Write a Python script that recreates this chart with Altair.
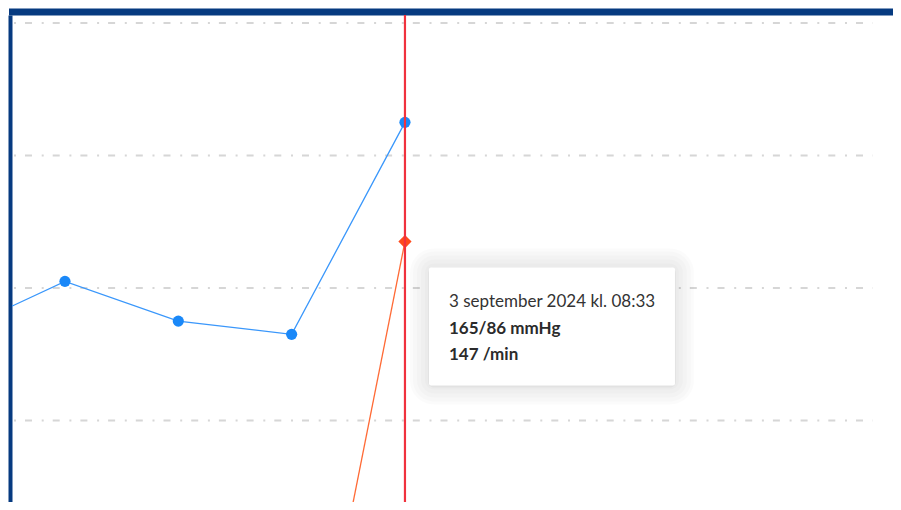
import altair as alt
import pandas as pd

# ---- data ----
times = ["2024-08-30T08:33", "2024-08-31T08:33", "2024-09-01T08:33",
         "2024-09-02T08:33", "2024-09-03T08:33"]
systolic = [133, 141, 135, 133, 165]
diastolic = [None, None, None, None, 86]
pulse = [None, None, None, 61, 147]
selected = 4
grid_values = [120, 140, 160, 180]
month_names = ["januari", "februari", "mars", "april", "maj", "juni", "juli",
               "augusti", "september", "oktober", "november", "december"]

df = pd.DataFrame({"time": times, "systolic": systolic, "pulse": pulse})
grid_df = pd.DataFrame({"g": grid_values})

ts = pd.Timestamp(times[selected])
sel_df = pd.DataFrame({
    "time": [times[selected]],
    "pulse": [pulse[selected]],
    "l1": [f"{ts.day} {month_names[ts.month - 1]} {ts.year} kl. {ts:%H:%M}"],
    "l2": [f"{systolic[selected]}/{diastolic[selected]} mmHg"],
    "l3": [f"{pulse[selected]} /min"],
})

BORDER = "#063a80"
FONT = "Lato"

xscale = alt.Scale(domain=[alt.DateTime(year=2024, month=8, date=30, hours=21, minutes=20),
                           alt.DateTime(year=2024, month=9, date=7, hours=15, minutes=54)])
yscale = alt.Scale(domain=[107.7, 181.2], nice=False, zero=False)

xaxis = alt.Axis(orient="top", title=None, labels=False, ticks=False, grid=False,
                 domain=True, domainColor=BORDER, domainWidth=7, domainCap="square",
                 offset=3.5)
yaxis = alt.Axis(orient="left", title=None, labels=False, ticks=False, grid=False,
                 domain=True, domainColor=BORDER, domainWidth=4, offset=2)

X = alt.X("time:T", scale=xscale, axis=xaxis)
Ysys = alt.Y("systolic:Q", scale=yscale, axis=yaxis)
Ypul = alt.Y("pulse:Q", scale=yscale, axis=yaxis)

grid = alt.Chart(grid_df).mark_rule(color="#d6d6d6", strokeWidth=2,
                                    strokeDash=[2, 9, 7, 9.7]).encode(
    y=alt.Y("g:Q", scale=yscale, axis=yaxis), x=alt.value(2), x2=alt.value(861))

sys_line = alt.Chart(df).mark_line(color="#3a97fb", strokeWidth=1.3, clip=True).encode(x=X, y=Ysys)
sys_pts = alt.Chart(df).mark_circle(color="#1a88f8", size=125, opacity=1, clip=True).encode(x=X, y=Ysys)
pul_line = alt.Chart(df).mark_line(color="#ff6a35", strokeWidth=1.3, clip=True).encode(x=X, y=Ypul)
pul_pts = alt.Chart(sel_df).mark_point(shape="diamond", filled=True, color="#ff4a1c",
                                       size=175, opacity=1, clip=True).encode(x=X, y=Ypul)
rule = alt.Chart(sel_df).mark_rule(color="#f0323e", strokeWidth=2.2, clip=True).encode(x=X)

BOX_W, BOX_H, BOX_DX, BOX_DY = 246, 118, 147, 85
shadows = []
for k, op in [(19, 0.014), (16, 0.014), (12, 0.014), (8, 0.014), (4, 0.016), (1, 0.035)]:
    shadows.append(
        alt.Chart(sel_df).mark_rect(width=BOX_W + 2 * k, height=BOX_H + 2 * k,
                                    xOffset=BOX_DX, yOffset=BOX_DY + (1 if k == 1 else 0),
                                    cornerRadius=k + 5, color="#000000", opacity=op)
        .encode(x=X, y=Ypul)
    )
box = alt.Chart(sel_df).mark_rect(width=BOX_W, height=BOX_H, xOffset=BOX_DX, yOffset=BOX_DY,
                                  cornerRadius=2, color="#ffffff").encode(x=X, y=Ypul)

t1 = alt.Chart(sel_df).mark_text(align="left", baseline="alphabetic", dx=44, dy=65,
                                 font=FONT, fontSize=17, color="#333333").encode(x=X, y=Ypul, text="l1:N")
t2 = alt.Chart(sel_df).mark_text(align="left", baseline="alphabetic", dx=44, dy=92,
                                 font=FONT, fontSize=17, fontWeight="bold", color="#2b2b2b").encode(x=X, y=Ypul, text="l2:N")
t3 = alt.Chart(sel_df).mark_text(align="left", baseline="alphabetic", dx=44, dy=118,
                                 font=FONT, fontSize=17, fontWeight="bold", color="#2b2b2b").encode(x=X, y=Ypul, text="l3:N")

chart = alt.layer(
    grid, sys_line, pul_line, sys_pts, pul_pts, rule, *shadows, box, t1, t2, t3
).properties(
    width=881, height=487,
    padding={"left": 4, "top": 7, "right": 0, "bottom": 0},
    autosize=alt.AutoSizeParams(type="none"),
    background="#ffffff",
).configure_view(strokeWidth=0)

chart.save("out.html", embed_options={"renderer": "svg", "actions": False})
